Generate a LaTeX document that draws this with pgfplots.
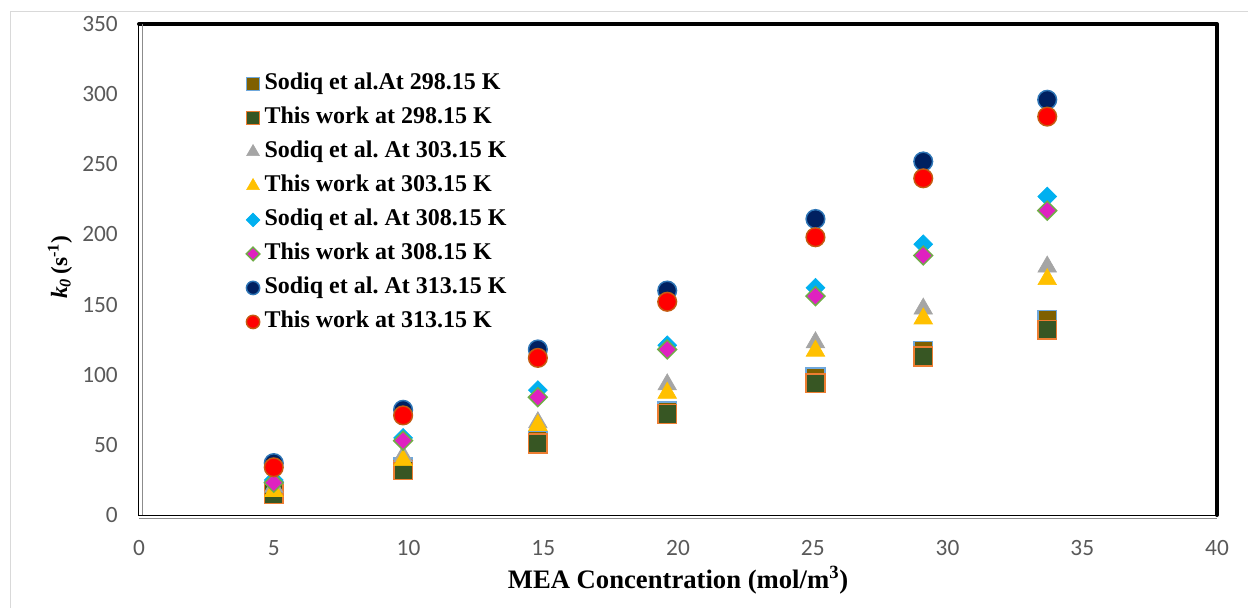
\documentclass[border=0pt]{standalone}
\usepackage{pgfplots}
\pgfplotsset{compat=1.18}
\usepackage{fontspec}
\setmainfont{Liberation Serif}
\newfontfamily\tickfont{Carlito}

\definecolor{sqA}{HTML}{7F6000}
\definecolor{sqAedge}{HTML}{6FA8DC}
\definecolor{sqB}{HTML}{375623}
\definecolor{sqBedge}{HTML}{ED7D31}
\definecolor{trA}{HTML}{A5A5A5}
\definecolor{trB}{HTML}{FFC000}
\definecolor{dmA}{HTML}{00B0F0}
\definecolor{dmB}{HTML}{DF21C0}
\definecolor{dmBedge}{HTML}{70AD47}
\definecolor{ciA}{HTML}{002060}
\definecolor{ciAedge}{HTML}{2E75B6}
\definecolor{ciB}{HTML}{FF0000}
\definecolor{ciBedge}{HTML}{C55A11}
\definecolor{ticktext}{HTML}{595959}

\pgfplotsset{
  lgmark/.style={legend image code/.code={\draw[##1,mark size=#1] plot coordinates {(0pt,0pt)};}},
}
\frenchspacing

\begin{document}
\begin{tikzpicture}
\useasboundingbox (-104.25pt,-69pt) rectangle (831.75pt,386.25pt);
% light outer frame
\draw[black!15, line width=0.75pt] (-96pt,-90pt) -- (-96pt,377.25pt) -- (850pt,377.25pt);
\begin{axis}[
  at={(0,0)}, anchor=south west,
  scale only axis,
  width=808.5pt, height=368.25pt,
  xmin=0, xmax=40, ymin=0, ymax=350,
  xtick={0,5,...,40}, ytick={0,50,...,350},
  major tick length=0pt,
  clip=false,
  axis line style={black, line width=0.75pt},
  /pgf/number format/assume math mode=true,
  tick label style={font=\tickfont\fontsize{17.5}{20}\selectfont, text=ticktext},
  yticklabel style={inner sep=0pt, xshift=-15.75pt},
  xticklabel style={inner sep=0pt, yshift=-19pt},
  xlabel={\bfseries MEA Concentration (mol/m\textsuperscript{3})},
  ylabel={\bfseries\itshape k\textsubscript{0}\,\upshape(s\textsuperscript{-1})},
  xlabel style={at={(axis description cs:0.5,-0.1324)}, anchor=center, font=\fontsize{20}{24}\selectfont},
  ylabel style={at={(axis description cs:-0.0733,0.505)}, anchor=center, font=\fontsize{17.5}{20}\selectfont},
  legend cell align=left,
  legend style={at={(rel axis cs:0,1)}, anchor=north west, xshift=80.25pt, yshift=-36.75pt,
    draw=none, fill=none, inner sep=0pt, row sep=9.5pt,
    font=\bfseries\fontsize{18}{21}\selectfont,
    nodes={inner sep=0pt, text height=12pt, text depth=4pt}},
  /tikz/every odd column/.append style={column sep=3.5pt},
]
% Sodiq et al. at 298.15 K
\addplot[only marks, mark=square*, mark size=7pt, mark options={fill=sqA, draw=sqAedge, line width=1.1pt}, lgmark=5pt]
  coordinates {(5,17) (9.8,34) (14.8,53) (19.6,74) (25.1,98) (29.1,117) (33.7,139)};
\addlegendentry{Sodiq et al.At 298.15 K}
% This work at 298.15 K
\addplot[only marks, mark=square*, mark size=7pt, mark options={fill=sqB, draw=sqBedge, line width=1.1pt}, lgmark=5pt]
  coordinates {(5,15) (9.8,32) (14.8,51) (19.6,72) (25.1,94) (29.1,113) (33.7,132)};
\addlegendentry{This work at 298.15 K}
% Sodiq et al. at 303.15 K
\addplot[only marks, mark=triangle*, mark size=8pt, mark options={fill=trA, draw=trA, line width=0.5pt}, lgmark=5.5pt]
  coordinates {(5,20) (9.8,42) (14.8,66) (19.6,93) (25.1,123) (29.1,147) (33.7,177)};
\addlegendentry{Sodiq et al. At 303.15 K}
% This work at 303.15 K
\addplot[only marks, mark=triangle*, mark size=8pt, mark options={fill=trB, draw=trB, line width=0.5pt}, lgmark=5.5pt]
  coordinates {(5,17) (9.8,39) (14.8,64) (19.6,87) (25.1,117) (29.1,140) (33.7,168)};
\addlegendentry{This work at 303.15 K}
% Sodiq et al. at 308.15 K
\addplot[only marks, mark=square*, mark size=5pt, mark options={rotate=45, fill=dmA, draw=dmA, line width=0.5pt}, lgmark=3.6pt]
  coordinates {(5,25) (9.8,55) (14.8,89) (19.6,121) (25.1,162) (29.1,193) (33.7,227)};
\addlegendentry{Sodiq et al. At 308.15 K}
% This work at 308.15 K
\addplot[only marks, mark=square*, mark size=5pt, mark options={rotate=45, fill=dmB, draw=dmBedge, line width=1.1pt}, lgmark=3.6pt]
  coordinates {(5,23) (9.8,53) (14.8,84) (19.6,118) (25.1,156) (29.1,185) (33.7,217)};
\addlegendentry{This work at 308.15 K}
% Sodiq et al. at 313.15 K
\addplot[only marks, mark=*, mark size=7pt, mark options={fill=ciA, draw=ciAedge, line width=1.1pt}, lgmark=5pt]
  coordinates {(5,37) (9.8,75) (14.8,118) (19.6,160) (25.1,211) (29.1,252) (33.7,296)};
\addlegendentry{Sodiq et al. At 313.15 K}
% This work at 313.15 K
\addplot[only marks, mark=*, mark size=7pt, mark options={fill=ciB, draw=ciBedge, line width=1.1pt}, lgmark=5pt]
  coordinates {(5,34) (9.8,71) (14.8,112) (19.6,152) (25.1,198) (29.1,240) (33.7,284)};
\addlegendentry{This work at 313.15 K}
% plot-area border: heavy top and right edges, faint inner rules
\draw[black, line width=3pt, line join=round, line cap=round] (rel axis cs:0,1) -- (rel axis cs:1,1) -- (rel axis cs:1,0);
\draw[black!45, line width=0.75pt] ([xshift=2.5pt]rel axis cs:0,0) -- ([xshift=2.5pt]rel axis cs:0,1);
\draw[black!45, line width=0.75pt] ([yshift=-2.5pt]rel axis cs:0,0) -- ([yshift=-2.5pt]rel axis cs:1,0);
\end{axis}
\end{tikzpicture}
\end{document}
